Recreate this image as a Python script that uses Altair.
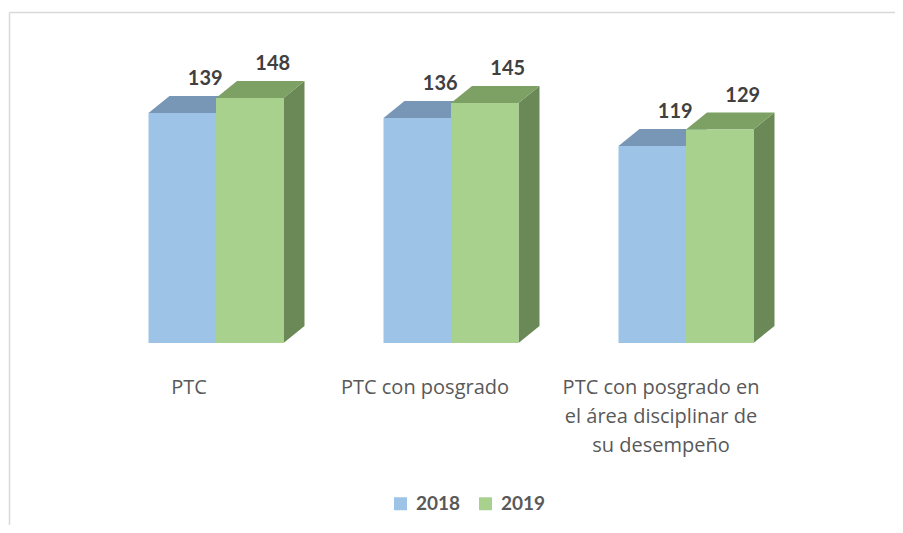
import altair as alt
import pandas as pd

# ---- data ----
categories = ["PTC", "PTC con posgrado",
              "PTC con posgrado en el área disciplinar de su desempeño"]
category_labels = ["PTC", "PTC con posgrado",
                   "PTC con posgrado en\nel área disciplinar de\nsu desempeño"]
series = ["2018", "2019"]
values_2018 = [139, 136, 119]
values_2019 = [148, 145, 129]

# ---- styles / layout ----
front_colors = ["#9DC3E6", "#A9D18E"]
top_colors = ["#7896B6", "#7DA065"]
side_colors = ["#6E8FB0", "#6A8956"]

W, H = 887, 517
PX_PER_CAT = 235.0       # pixels between category centres
PX_PER_VAL = 1.655       # pixels per unit of value
X0_PX = 208.0            # pixel position of first category centre
Y0_PX = 335.0            # pixel position of the baseline
BAR_W = 67.5 / PX_PER_CAT
DX = 21.0 / PX_PER_CAT   # 3D depth, horizontal
DY = 17.0 / PX_PER_VAL   # 3D depth, vertical
LABEL_SPACING = 236.0 / PX_PER_CAT
LABEL_SHIFT = -27.0 / PX_PER_CAT
VALUE_LABEL_SHIFT = 23.0 / PX_PER_CAT

x_domain = [-X0_PX / PX_PER_CAT, (W - X0_PX) / PX_PER_CAT]
y_domain = [-(H - Y0_PX) / PX_PER_VAL, Y0_PX / PX_PER_VAL]

front_rows, face_rows, label_rows = [], [], []
for i, cat in enumerate(categories):
    for s, (name, vals) in enumerate(zip(series, [values_2018, values_2019])):
        v = vals[i]
        xl = i + (s - 1) * BAR_W
        xr = xl + BAR_W
        front_rows.append(dict(cat=cat, series=name, fx=xl, fx2=xr, fy=0, fy2=v,
                               lx=(xl + xr) / 2 + VALUE_LABEL_SHIFT, v=v))
        # side face (drawn first)
        for (px, a, b) in [(xr, 0, v), (xr + DX, DY, v + DY)]:
            face_rows.append(dict(gid=f"a{i}{s}", ax=px, ay=a, ay2=b,
                                  col=side_colors[s]))
        # top face
        for (px, a, b) in [(xl, v, v), (xl + DX, v, v + DY),
                           (xr, v, v + DY), (xr + DX, v + DY, v + DY)]:
            face_rows.append(dict(gid=f"b{i}{s}", ax=px, ay=a, ay2=b,
                                  col=top_colors[s]))
    label_rows.append(dict(cat=category_labels[i], tx=i * LABEL_SPACING + LABEL_SHIFT))

front_df = pd.DataFrame(front_rows)
face_df = pd.DataFrame(face_rows)
label_df = pd.DataFrame(label_rows)

xs = alt.Scale(domain=x_domain, nice=False, zero=False)
ys = alt.Scale(domain=y_domain, nice=False, zero=False)

faces = alt.Chart(face_df).mark_area(interpolate="linear", opacity=1).encode(
    x=alt.X("ax:Q", scale=xs, axis=None),
    y=alt.Y("ay:Q", scale=ys, axis=None),
    y2="ay2:Q",
    color=alt.Color("col:N", scale=None),
    detail="gid:N",
)

front = alt.Chart(front_df).mark_rect().encode(
    x=alt.X("fx:Q", scale=xs, axis=None),
    x2="fx2:Q",
    y=alt.Y("fy:Q", scale=ys, axis=None),
    y2="fy2:Q",
    color=alt.Color("series:N", scale=alt.Scale(domain=series, range=front_colors),
                    legend=alt.Legend(title=None)),
)

value_text = alt.Chart(front_df).mark_text(
    font="Lato", fontSize=20, fontWeight="bold", color="#404040",
    baseline="middle", dy=-34
).encode(
    x=alt.X("lx:Q", scale=xs, axis=None),
    y=alt.Y("v:Q", scale=ys, axis=None),
    text="v:Q",
)

cat_text = alt.Chart(label_df).mark_text(
    font="Open Sans", fontSize=20, color="#595959", baseline="alphabetic",
    align="center", lineBreak="\n", lineHeight=29
).encode(
    x=alt.X("tx:Q", scale=xs, axis=None),
    y=alt.value(386),
    text="cat:N",
)

frame_df = pd.DataFrame({"a": [0]})
frame_left = alt.Chart(frame_df).mark_rule(color="#D9D9D9", strokeWidth=1.5).encode(
    x=alt.value(1.5), y=alt.value(4.5), y2=alt.value(H)
)
frame_top = alt.Chart(frame_df).mark_rule(color="#D9D9D9", strokeWidth=1.5).encode(
    x=alt.value(1.5), x2=alt.value(W), y=alt.value(4.5)
)

chart = alt.layer(frame_left, frame_top, faces, front, value_text, cat_text).properties(
    width=W, height=H, autosize=alt.AutoSizeParams(type="none"), padding=0,
    background="white"
).resolve_scale(color="independent").configure_view(stroke=None).configure_legend(
    orient="none", legendX=383, legendY=486, direction="horizontal",
    symbolType="square", symbolSize=169, symbolStrokeWidth=0, symbolOpacity=1,
    labelFont="Lato", labelFontSize=19, labelFontWeight="bold", labelColor="#595959",
    columnPadding=15, labelOffset=6, padding=0
)

chart.save("out.html", embed_options={"renderer": "svg", "actions": False})
